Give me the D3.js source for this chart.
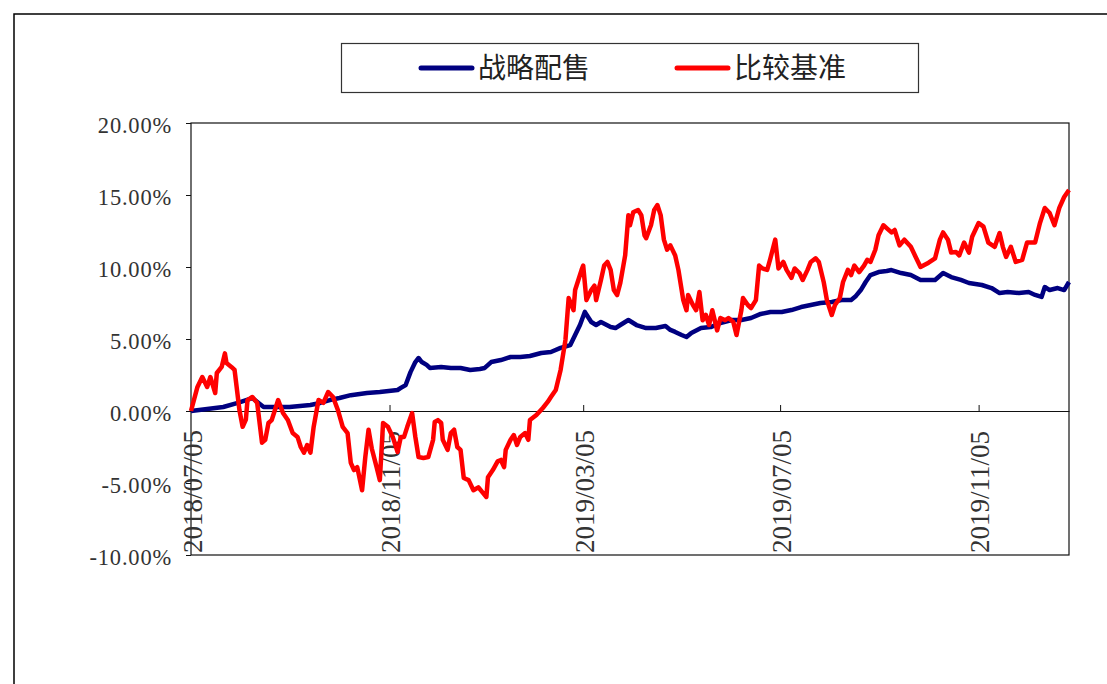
<html>
<script src='https://d3js.org/d3.v7.min.js'></script>
<style>
  body {margin: 0; background: #fff;}
  .ytick text {font-family: 'Liberation Serif', serif; font-size: 22.5px; fill: #333; letter-spacing: 0.8px;}
  .xtick text {font-family: 'Liberation Serif', serif; font-size: 27px; fill: #333;}
  .legend text {font-family: 'Noto Sans CJK SC', sans-serif; font-size: 28px; fill: #222;}
</style>
<body onload='init()'>
<svg width=1107 height=684></svg>
<script>
// series names
const seriesNames = ["战略配售", "比较基准"];

// 战略配售: calendar days after 2018/07/05, return in %
const strategyDay = [0, 20, 29, 38, 45, 61, 74, 80, 86, 92, 99, 109, 117, 128, 130, 133, 136, 139, 141, 143, 146, 148,
  155, 161, 167, 173, 179, 182, 186, 192, 198, 204, 210, 217, 223, 229, 235, 238, 241, 244, 248, 251, 254, 260,
  263, 266, 271, 276, 282, 288, 294, 297, 300, 304, 307, 310, 316, 322, 328, 335, 341, 347, 353, 359, 366, 372,
  378, 384, 390, 397, 403, 409, 412, 415, 418, 421, 426, 431, 434, 440, 446, 452, 461, 466, 471, 477, 482, 490,
  496, 501, 506, 513, 519, 523, 527, 529, 532, 537, 541, 544];
const strategyPct = [0.00, 0.28, 0.56, 0.90, 0.28, 0.28, 0.42, 0.56, 0.76, 0.90, 1.10, 1.25, 1.32, 1.46, 1.60, 1.80,
  2.70, 3.40, 3.68, 3.40, 3.20, 2.99, 3.06, 2.99, 2.99, 2.85, 2.92, 2.99, 3.40, 3.54, 3.75, 3.75, 3.82, 4.03, 4.10,
  4.38, 4.58, 5.28, 5.97, 6.88, 6.18, 5.97, 6.18, 5.83, 5.76, 5.97, 6.32, 5.97, 5.76, 5.76, 5.90, 5.63, 5.49, 5.28,
  5.14, 5.42, 5.76, 5.83, 6.11, 6.32, 6.32, 6.46, 6.74, 6.88, 6.88, 7.01, 7.22, 7.36, 7.50, 7.57, 7.71, 7.71, 7.99,
  8.40, 8.96, 9.44, 9.65, 9.72, 9.79, 9.58, 9.44, 9.10, 9.10, 9.58, 9.30, 9.10, 8.89, 8.75, 8.54, 8.19, 8.26, 8.19,
  8.26, 8.06, 7.92, 8.61, 8.40, 8.54, 8.40, 8.96];

// 比较基准: calendar days after 2018/07/05, return in %
const benchDay = [0, 4, 7, 10, 12, 15, 16, 19, 21, 22, 25, 27, 30, 32, 34, 35, 38, 41, 44, 46, 48, 50, 54, 57, 60, 63,
  66, 68, 70, 72, 74, 76, 79, 82, 85, 88, 91, 94, 97, 99, 101, 103, 106, 108, 110, 112, 115, 117, 119, 122, 125,
  128, 130, 132, 134, 137, 139, 141, 144, 147, 150, 151, 153, 155, 156, 159, 161, 163, 165, 167, 169, 172, 175,
  178, 181, 183, 184, 187, 190, 192, 194, 195, 198, 200, 202, 204, 207, 209, 210, 214, 218, 221, 223, 226, 229,
  232, 234, 237, 238, 240, 242, 243, 245, 248, 250, 251, 254, 256, 258, 260, 262, 264, 266, 269, 271, 272, 274,
  277, 279, 281, 282, 285, 287, 289, 291, 293, 295, 297, 300, 302, 305, 307, 308, 311, 313, 315, 317, 319, 321,
  323, 326, 328, 331, 333, 336, 338, 341, 342, 345, 347, 350, 352, 354, 357, 359, 362, 364, 367, 369, 372, 374,
  377, 379, 382, 384, 387, 389, 392, 394, 397, 399, 402, 404, 407, 409, 411, 414, 417, 419, 421, 424, 426, 429,
  431, 434, 436, 439, 442, 446, 449, 452, 457, 461, 464, 466, 469, 471, 474, 476, 479, 482, 484, 488, 491, 494,
  498, 501, 503, 505, 508, 511, 515, 518, 523, 526, 529, 532, 535, 538, 541, 544];
const benchPct = [0.00, 1.67, 2.36, 1.67, 2.36, 1.25, 2.64, 3.06, 4.00, 3.33, 3.06, 2.85, 0.07, -1.10, -0.60, 0.76,
  0.97, 0.56, -2.20, -2.00, -0.83, -0.63, 0.76, -0.14, -0.63, -1.53, -1.80, -2.50, -2.90, -2.36, -2.90, -1.10,
  0.76, 0.56, 1.32, 0.97, 0.07, -1.10, -1.53, -3.60, -4.10, -3.90, -5.50, -3.20, -1.30, -2.60, -3.90, -4.80,
  -0.83, -1.10, -1.80, -2.85, -1.80, -1.80, -1.10, -0.14, -1.80, -3.20, -3.26, -3.20, -2.00, -0.76, -0.63, -0.83,
  -2.00, -2.70, -1.53, -1.30, -2.50, -2.70, -4.65, -4.80, -5.50, -5.30, -5.70, -5.97, -4.60, -4.10, -3.50, -3.40,
  -3.90, -2.70, -2.00, -1.67, -2.36, -1.80, -1.53, -2.00, -0.63, -0.28, 0.21, 0.63, 0.97, 1.46, 2.85, 4.93, 7.85,
  7.00, 8.40, 9.10, 9.80, 10.10, 7.70, 8.40, 8.70, 7.70, 9.10, 10.10, 10.35, 9.80, 8.40, 8.05, 8.90, 10.80, 13.60,
  12.90, 13.80, 13.96, 13.60, 12.20, 12.00, 12.90, 13.96, 14.30, 13.60, 11.90, 11.20, 11.50, 10.80, 9.80, 7.70,
  7.00, 8.05, 7.36, 7.00, 8.26, 6.30, 6.67, 5.97, 7.00, 5.60, 6.46, 6.30, 6.46, 6.18, 5.28, 7.00, 7.85, 7.36, 7.15,
  7.70, 10.10, 9.90, 9.80, 10.60, 11.90, 9.90, 10.35, 9.80, 9.24, 9.90, 9.58, 9.10, 9.80, 10.35, 10.60, 10.35,
  8.96, 7.70, 6.67, 7.36, 7.85, 8.96, 9.80, 9.44, 10.10, 9.65, 10.10, 10.50, 10.35, 11.20, 12.20, 12.90, 12.70,
  12.40, 12.57, 11.50, 11.90, 11.40, 10.70, 10.00, 10.30, 10.60, 11.90, 12.40, 11.90, 11.00, 11.04, 10.80, 11.70,
  11.00, 12.10, 13.05, 12.80, 11.70, 11.40, 12.36, 11.40, 10.70, 11.40, 10.35, 10.50, 11.70, 11.70, 13.05, 14.10,
  13.75, 12.90, 14.10, 14.86, 15.35];

// axis labels
const xTickLabels = ["2018/07/05", "2018/11/05", "2019/03/05", "2019/07/05", "2019/11/05"];
const yTickValues = [-10, -5, 0, 5, 10, 15, 20];

function init() {
  const svg = d3.select("svg");
  const parse = d3.timeParse("%Y/%m/%d");
  const start = parse("2018/07/05");
  const end = parse("2019/12/31");

  const x = d3.scaleTime().domain([start, end]).range([191, 1069]);
  const y = d3.scaleLinear().domain([-10, 20]).range([555, 123]);

  // outer frame (top + left edges)
  svg.append("path")
    .attr("d", "M14,684 L14,14 L1107,14")
    .attr("fill", "none").attr("stroke", "#000").attr("stroke-width", 1.5);

  // plot box
  svg.append("rect")
    .attr("x", 191).attr("y", 123).attr("width", 878).attr("height", 432)
    .attr("fill", "none").attr("stroke", "#111").attr("stroke-width", 1.2);

  // y axis
  const yAxis = svg.append("g")
    .attr("class", "ytick")
    .attr("transform", "translate(191,0)")
    .call(d3.axisLeft(y).tickValues(yTickValues).tickSize(5).tickPadding(14)
      .tickFormat(d => d.toFixed(2) + "%"));
  yAxis.select(".domain").remove();
  yAxis.selectAll("line").attr("stroke", "#111");
  yAxis.selectAll("text").attr("dy", "0.4em");

  // x axis on zero line, ticks point up
  const xAxis = svg.append("g")
    .attr("class", "xtick")
    .attr("transform", "translate(0," + y(0) + ")")
    .call(d3.axisBottom(x).tickValues(xTickLabels.map(parse)).tickSizeInner(-6).tickSizeOuter(0)
      .tickFormat(d3.timeFormat("%Y/%m/%d")));
  xAxis.select(".domain").attr("stroke", "#111").attr("stroke-width", 1.2);
  xAxis.selectAll("line").attr("stroke", "#111");
  xAxis.selectAll("text")
    .attr("x", 0).attr("y", 0).attr("dy", "0.38em")
    .attr("transform", "translate(0," + (553 - y(0)) + ") rotate(-90)")
    .style("text-anchor", "start");

  const line = d3.line()
    .x(d => x(d3.timeDay.offset(start, d[0])))
    .y(d => y(d[1]));

  const strategy = strategyDay.map((d, i) => [d, strategyPct[i]]);
  const bench = benchDay.map((d, i) => [d, benchPct[i]]);

  svg.append("path").datum(strategy)
    .attr("d", line).attr("fill", "none")
    .attr("stroke", "#000080").attr("stroke-width", 4.5).attr("stroke-linejoin", "round");

  svg.append("path").datum(bench)
    .attr("d", line).attr("fill", "none")
    .attr("stroke", "#ff0000").attr("stroke-width", 4.5).attr("stroke-linejoin", "round");

  // legend
  const lg = svg.append("g").attr("class", "legend");
  lg.append("rect")
    .attr("x", 341.5).attr("y", 43.5).attr("width", 577).attr("height", 49)
    .attr("fill", "#fff").attr("stroke", "#333").attr("stroke-width", 1.2);
  const items = [
    {name: seriesNames[0], color: "#000080", x0: 421},
    {name: seriesNames[1], color: "#ff0000", x0: 677}
  ];
  items.forEach(it => {
    lg.append("line")
      .attr("x1", it.x0).attr("x2", it.x0 + 51).attr("y1", 68).attr("y2", 68)
      .attr("stroke", it.color).attr("stroke-width", 5).attr("stroke-linecap", "round");
    lg.append("text")
      .attr("x", it.x0 + 57).attr("y", 68).attr("dy", "0.36em")
      .text(it.name);
  });
}
</script>
</body>
</html>
